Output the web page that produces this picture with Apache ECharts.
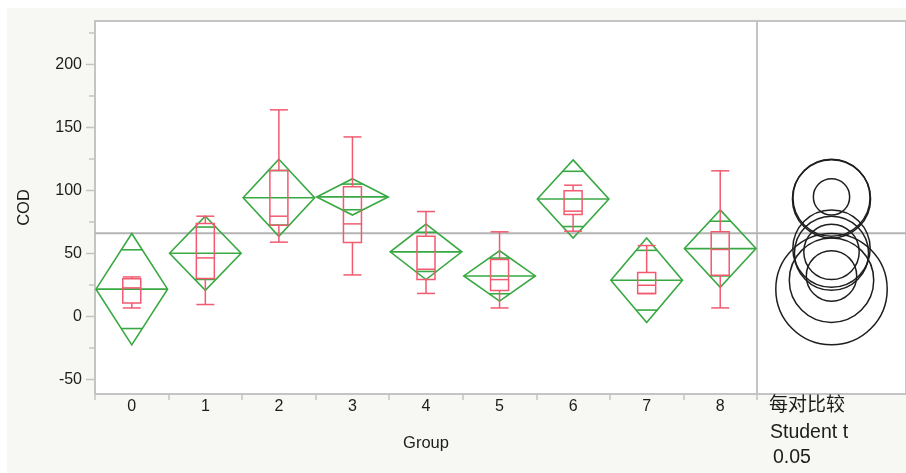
<!DOCTYPE html>
<html>
<head>
<meta charset="utf-8">
<script src="https://cdn.jsdelivr.net/npm/echarts@6/dist/echarts.min.js"></script>
<style>
  html, body { margin: 0; padding: 0; background: #ffffff; }
  #chart { width: 906px; height: 473px; }
</style>
</head>
<body>
<div id="chart"></div>
<script>
// COD by Group: means diamonds (95% CI + overlap marks), box plots,
// grand mean reference line and Student t comparison circles.
const groups       = ['0', '1', '2', '3', '4', '5', '6', '7', '8'];
const means        = [21.7, 50.2, 94.2, 94.9, 51.3, 32.2, 93.3, 28.8, 53.9];
const ciHalf       = [44.2, 29.4, 30.6, 14.4, 22.0, 20.0, 31.0, 33.5, 30.7];
const whiskerLow   = [6.8, 9.5, 59.0, 33.0, 18.3, 6.8, 67.7, 18.2, 6.8];
const quart1       = [10.8, 30.2, 72.5, 58.7, 29.3, 20.6, 81.0, 18.2, 32.8];
const medians      = [22.7, 46.5, 79.6, 73.5, 37.5, 29.3, 83.6, 24.8, 53.2];
const quart3       = [30.0, 73.8, 115.9, 102.9, 63.7, 45.2, 99.7, 34.9, 67.2];
const whiskerHigh  = [31.4, 79.6, 164.0, 142.5, 83.3, 67.2, 104.2, 56.3, 115.6];
const grandMean    = 66.1;
const yMajorTicks  = [-50, 0, 50, 100, 150, 200];
const yMinorTicks  = [-25, 25, 75, 125, 175, 225];
const panelLines   = ['每对比较', 'Student t', '0.05'];

const Y_MIN = -61.5, Y_MAX = 234.5;
const GREEN = '#38a942';
const RED = '#f25a70';
const AXIS_GRAY = '#c4c4c4';
const FONT = '"Liberation Sans", Arial, Helvetica, sans-serif';

const groupRows = groups.map((g, i) => [
  i, means[i], ciHalf[i], whiskerLow[i], quart1[i], medians[i], quart3[i], whiskerHigh[i]
]);

function renderDiamondBox(params, api) {
  const i = api.value(0);
  const mean = api.value(1), half = api.value(2);
  const c = api.coord([i, mean]);
  const cx = c[0], cy = c[1];
  const hw = api.size([1, 0])[0] / 2 - 1;
  const yTop = api.coord([i, mean + half])[1];
  const yBot = api.coord([i, mean - half])[1];
  const span = cy - yTop;
  const ovUp = api.coord([i, mean + half / Math.SQRT2])[1];
  const ovDn = api.coord([i, mean - half / Math.SQRT2])[1];
  const ovHw = hw * (1 - (cy - ovUp) / span);

  const gStyle = { stroke: GREEN, lineWidth: 1.6, fill: null };
  const rStyle = { stroke: RED, lineWidth: 1.5, fill: null };

  const yLo = api.coord([i, api.value(3)])[1];
  const yQ1 = api.coord([i, api.value(4)])[1];
  const yMd = api.coord([i, api.value(5)])[1];
  const yQ3 = api.coord([i, api.value(6)])[1];
  const yHi = api.coord([i, api.value(7)])[1];
  const bh = 9;

  const children = [
    { type: 'polygon', shape: { points: [[cx, yTop], [cx + hw, cy], [cx, yBot], [cx - hw, cy]] }, style: gStyle },
    { type: 'line', shape: { x1: cx - hw, y1: cy, x2: cx + hw, y2: cy }, style: gStyle },
    { type: 'line', shape: { x1: cx - ovHw, y1: ovUp, x2: cx + ovHw, y2: ovUp }, style: gStyle },
    { type: 'line', shape: { x1: cx - ovHw, y1: ovDn, x2: cx + ovHw, y2: ovDn }, style: gStyle },
    // box plot
    { type: 'rect', shape: { x: cx - bh, y: yQ3, width: 2 * bh, height: yQ1 - yQ3 }, style: rStyle },
    { type: 'line', shape: { x1: cx - bh, y1: yMd, x2: cx + bh, y2: yMd }, style: rStyle },
    { type: 'line', shape: { x1: cx, y1: yQ3, x2: cx, y2: yHi }, style: rStyle },
    { type: 'line', shape: { x1: cx, y1: yQ1, x2: cx, y2: yLo }, style: rStyle },
    { type: 'line', shape: { x1: cx - bh, y1: yHi, x2: cx + bh, y2: yHi }, style: rStyle },
    { type: 'line', shape: { x1: cx - bh, y1: yLo, x2: cx + bh, y2: yLo }, style: rStyle }
  ];
  return { type: 'group', children };
}

function renderGrandMean(params, api) {
  const cs = params.coordSys;
  const y = api.coord([api.value(0), api.value(1)])[1];
  return {
    type: 'line',
    shape: { x1: cs.x, y1: y, x2: cs.x + cs.width, y2: y },
    style: { stroke: '#b4b4b4', lineWidth: 2 }
  };
}

function renderYTick(major) {
  return function (params, api) {
    const cs = params.coordSys;
    const v = api.value(1);
    const y = api.coord([0, v])[1];
    const len = major ? 9 : 6;
    const children = [
      { type: 'line', shape: { x1: cs.x - len, y1: y, x2: cs.x, y2: y },
        style: { stroke: AXIS_GRAY, lineWidth: 1.5 } }
    ];
    if (major) {
      children.push({
        type: 'text',
        style: { text: String(v), x: cs.x - 13, y: y, align: 'right', verticalAlign: 'middle',
                 font: '16px ' + FONT, fill: '#1c1c1c' }
      });
    }
    return { type: 'group', children };
  };
}

function renderCircle(params, api) {
  const mean = api.value(0), half = api.value(1);
  const c = api.coord([0, mean]);
  const r = c[1] - api.coord([0, mean + half])[1];
  return {
    type: 'circle',
    shape: { cx: c[0], cy: c[1], r: r },
    style: { stroke: '#1e1e1e', lineWidth: 1.5, fill: null }
  };
}

const chart = echarts.init(document.getElementById('chart'), null, { renderer: 'canvas' });

chart.setOption({
  animation: false,
  backgroundColor: '#ffffff',
  graphic: [
    { type: 'rect', left: 7, top: 8, z: -100, silent: true,
      shape: { width: 899, height: 465 }, style: { fill: '#f7f7f3' } },
    { type: 'text', left: 769, top: 394, z: 10,
      style: { text: panelLines[0], font: '19px "Noto Sans CJK SC", sans-serif', fill: '#1c1c1c' } },
    { type: 'text', left: 770, top: 423, z: 10,
      style: { text: panelLines[1], font: '19.5px ' + FONT, fill: '#1c1c1c' } },
    { type: 'text', left: 773, top: 448, z: 10,
      style: { text: panelLines[2], font: '19.5px ' + FONT, fill: '#1c1c1c' } }
  ],
  grid: [
    { left: 95, top: 21, width: 662, height: 373, show: true,
      backgroundColor: '#ffffff', borderColor: AXIS_GRAY, borderWidth: 2 },
    { left: 757, top: 21, width: 152, height: 373, show: true,
      backgroundColor: '#ffffff', borderColor: AXIS_GRAY, borderWidth: 2 }
  ],
  xAxis: [
    { type: 'category', gridIndex: 0, data: groups, boundaryGap: true,
      name: 'Group', nameLocation: 'middle', nameGap: 41,
      nameTextStyle: { fontFamily: FONT, fontSize: 16.5, color: '#1c1c1c' },
      axisLine: { show: true, onZero: false, lineStyle: { color: AXIS_GRAY, width: 2 } },
      axisTick: { show: true, length: 6, lineStyle: { color: AXIS_GRAY, width: 1.5 } },
      axisLabel: { fontFamily: FONT, fontSize: 16, color: '#1c1c1c', margin: 5 },
      splitLine: { show: false } },
    { type: 'value', gridIndex: 1, min: -1, max: 1, show: false }
  ],
  yAxis: [
    { type: 'value', gridIndex: 0, min: Y_MIN, max: Y_MAX,
      name: 'COD', nameLocation: 'middle', nameGap: 62, nameRotate: 90,
      nameTextStyle: { fontFamily: FONT, fontSize: 16.5, color: '#1c1c1c' },
      axisLine: { show: false }, axisTick: { show: false },
      axisLabel: { show: false }, splitLine: { show: false } },
    { type: 'value', gridIndex: 1, min: Y_MIN, max: Y_MAX, show: false }
  ],
  series: [
    { type: 'custom', xAxisIndex: 0, yAxisIndex: 0, z: 1, clip: false,
      data: [[0, grandMean]], renderItem: renderGrandMean },
    { type: 'custom', xAxisIndex: 1, yAxisIndex: 1, z: 1, clip: false,
      data: [[0, grandMean]], renderItem: renderGrandMean },
    { type: 'custom', xAxisIndex: 0, yAxisIndex: 0, z: 3, clip: false,
      data: yMajorTicks.map(v => [0, v]), renderItem: renderYTick(true) },
    { type: 'custom', xAxisIndex: 0, yAxisIndex: 0, z: 3, clip: false,
      data: yMinorTicks.map(v => [0, v]), renderItem: renderYTick(false) },
    { type: 'custom', xAxisIndex: 0, yAxisIndex: 0, z: 5, clip: false,
      data: groupRows, renderItem: renderDiamondBox },
    { type: 'custom', xAxisIndex: 1, yAxisIndex: 1, z: 5, clip: false,
      data: means.map((m, i) => [m, ciHalf[i]]),
      encode: { x: -1, y: 0 }, renderItem: renderCircle }
  ]
});
</script>
</body>
</html>
